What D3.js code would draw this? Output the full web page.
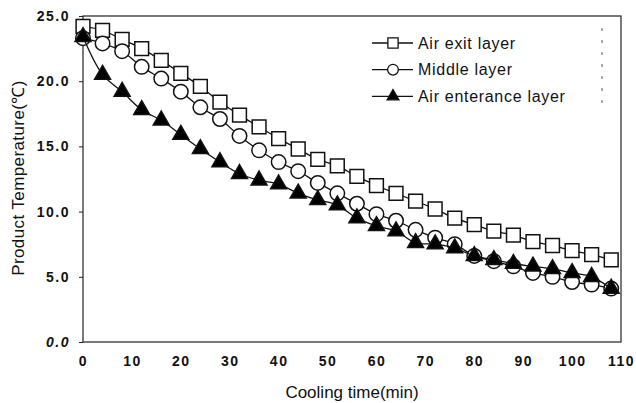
<!DOCTYPE html>
<html>
<head>
<meta charset="utf-8">
<script src="https://cdn.jsdelivr.net/npm/d3@7"></script>
<style>
  body { margin: 0; background: #fff; }
  svg { display: block; font-family: "Liberation Sans", Arial, sans-serif; }
</style>
</head>
<body>
<div id="chart_div"></div>
<script>
// cooling time (min)
var times = [0, 4, 8, 12, 16, 20, 24, 28, 32, 36, 40, 44, 48, 52, 56, 60, 64, 68, 72, 76, 80, 84, 88, 92, 96, 100, 104, 108];

// product temperature (C)
var exitLayer = [24.2, 23.9, 23.2, 22.5, 21.6, 20.6, 19.6, 18.4, 17.4, 16.5, 15.6, 14.8, 14.0, 13.5, 12.7, 12.0, 11.4, 10.8, 10.2, 9.5, 9.0, 8.5, 8.2, 7.7, 7.4, 7.0, 6.7, 6.3];
var middleLayer = [23.3, 22.9, 22.3, 21.1, 20.2, 19.2, 18.0, 17.1, 15.8, 14.7, 13.8, 13.1, 12.2, 11.4, 10.6, 9.8, 9.3, 8.6, 8.0, 7.5, 6.6, 6.2, 5.8, 5.3, 5.0, 4.6, 4.4, 4.1];
var entranceLayer = [23.4, 20.5, 19.2, 17.8, 17.0, 15.9, 14.8, 13.8, 12.9, 12.4, 12.1, 11.4, 10.9, 10.5, 9.5, 8.9, 8.5, 7.6, 7.5, 7.2, 6.6, 6.3, 6.0, 5.8, 5.6, 5.3, 5.0, 4.1];

var seriesNames = ['Air exit layer', 'Middle layer', 'Air enterance layer'];
var xTicks = [0, 10, 20, 30, 40, 50, 60, 70, 80, 90, 100, 110];
var yTicks = [0, 5, 10, 15, 20, 25];

var W = 636, H = 403;
var margin = {top: 16, right: 15, bottom: 61, left: 83},
    width = 621 - margin.left,
    height = 342 - margin.top;

var svg = d3.select('#chart_div').append('svg')
    .attr('width', W)
    .attr('height', H)
  .append('g')
    .attr('transform', 'translate(' + margin.left + ',' + margin.top + ')');

var xScale = d3.scaleLinear().domain([0, 110]).range([0, width]);
var yScale = d3.scaleLinear().domain([0, 25]).range([height, 0]);

// plot frame
svg.append('rect')
    .attr('width', width)
    .attr('height', height)
    .style('fill', 'none')
    .style('stroke', '#222')
    .style('stroke-width', '1.2px');

// scan leftover of the legend box
svg.append('line')
    .attr('x1', 519).attr('x2', 519)
    .attr('y1', 12).attr('y2', 96)
    .style('stroke', '#555')
    .style('stroke-width', '1px')
    .style('stroke-dasharray', '3 9');

// axes
var yAxis = svg.append('g')
    .attr('class', 'yaxis')
    .call(d3.axisLeft(yScale).tickValues(yTicks).tickSize(4).tickPadding(9)
      .tickFormat(d3.format('.1f')));

var xAxis = svg.append('g')
    .attr('class', 'xaxis')
    .attr('transform', 'translate(0,' + height + ')')
    .call(d3.axisBottom(xScale).tickValues(xTicks).tickSize(0).tickPadding(14));

svg.selectAll('path.domain').style('stroke', 'none');
svg.selectAll('.tick line').style('stroke', '#222');

svg.selectAll('.yaxis text, .xaxis text')
    .style('fill', '#111')
    .style('font-size', '14px')
    .style('font-weight', 'bold')
    .style('letter-spacing', '1.5px');

yAxis.selectAll('.tick text')
    .style('font-style', function(d) { return d == 0 ? 'italic' : 'normal'; });

// axis titles
svg.append('text')
    .attr('text-anchor', 'middle')
    .attr('x', xScale(55))
    .attr('y', height + 56)
    .style('font-size', '17px')
    .style('fill', '#111')
    .text('Cooling time(min)');

svg.append('text')
    .attr('text-anchor', 'middle')
    .attr('transform', 'rotate(-90)')
    .attr('x', -(178 - margin.top))
    .attr('y', -59)
    .style('font-size', '17px')
    .style('letter-spacing', '0.4px')
    .style('fill', '#111')
    .text('Product Temperature(\u2103)');

// series
var series = [
  {name: seriesNames[0], values: exitLayer, symbol: d3.symbolSquare, size: 190, fill: '#fff'},
  {name: seriesNames[1], values: middleLayer, symbol: d3.symbolCircle, size: 165, fill: '#fff'},
  {name: seriesNames[2], values: entranceLayer, symbol: d3.symbolTriangle, size: 110, fill: '#000'}
];

var valueline = d3.line()
    .curve(d3.curveCatmullRom)
    .x(function(d) { return xScale(d[0]); })
    .y(function(d) { return yScale(d[1]); });

series.forEach(function(s, i) {
  var pts = times.map(function(t, j) { return [t, s.values[j]]; });

  svg.append('path')
      .datum(pts)
      .attr('class', 'line' + i)
      .attr('d', valueline)
      .style('fill', 'none')
      .style('stroke', '#111')
      .style('stroke-width', '1.3px');

  svg.selectAll('path.point' + i)
    .data(pts)
    .enter().append('path')
      .attr('class', 'point' + i)
      .attr('transform', function(d) { return 'translate(' + xScale(d[0]) + ',' + yScale(d[1]) + ')'; })
      .attr('d', d3.symbol().type(s.symbol).size(s.size))
      .style('fill', s.fill)
      .style('stroke', '#111')
      .style('stroke-width', '1.5px');
});

// legend
var legend = svg.append('g')
    .attr('transform', 'translate(' + (372 - margin.left) + ',' + (43 - margin.top) + ')');

series.forEach(function(s, i) {
  var row = legend.append('g').attr('transform', 'translate(0,' + (i * 26.7) + ')');
  row.append('line')
      .attr('x1', 0).attr('x2', 41)
      .style('stroke', '#111')
      .style('stroke-width', '1.3px');
  row.append('path')
      .attr('transform', 'translate(21,0)')
      .attr('d', d3.symbol().type(s.symbol).size(s.size * 0.55))
      .style('fill', s.fill)
      .style('stroke', '#111')
      .style('stroke-width', '1.3px');
  row.append('text')
      .attr('x', 46)
      .attr('dy', '0.35em')
      .style('font-size', '16px')
      .style('fill', '#111')
      .style('letter-spacing', '0.7px')
      .text(s.name);
});
</script>
</body>
</html>
